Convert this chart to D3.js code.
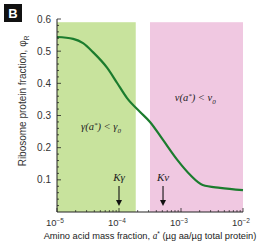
<!DOCTYPE html>
<html>
<head>
<meta charset="utf-8">
<script src="https://cdn.jsdelivr.net/npm/d3@7"></script>
<style>
  body { margin: 0; background: #fff; }
  svg { font-family: "Liberation Sans", Arial, sans-serif; }
  .ital { font-family: "Liberation Serif", "Times New Roman", serif; font-style: italic; }
</style>
</head>
<body>
<svg id="chart"></svg>
<script>
// curve: log10(a*) and phi_R
var curveLogA = [-5.0, -4.74, -4.58, -4.42, -4.19, -4.03, -3.87, -3.66, -3.5, -3.29, -3.06, -2.85, -2.65, -2.37, -2.0];
var curvePhi  = [0.544, 0.538, 0.525, 0.497, 0.448, 0.401, 0.354, 0.311, 0.28, 0.224, 0.162, 0.115, 0.084, 0.075, 0.068];

// shaded regions (log10 a*)
var regionNames = ["gamma", "nu"];
var regionStart = [-5.0, -3.5];
var regionEnd   = [-3.73, -2.0];
var regionTop   = 0.59;

// arrows
var markerNames = ["K\u03b3", "K\u03bd"];
var markerLogA  = [-4.0, -3.29];

var yTicks = [0.1, 0.2, 0.3, 0.4, 0.5, 0.6];
var xTickExp = [-5, -4, -3, -2];

var svgWidth = 262, svgHeight = 243;
var margin = { top: 19, left: 57 };
var width = 186, height = 193;

var x = d3.scaleLinear().domain([-5, -2]).range([0, width]);
var y = d3.scaleLinear().domain([0, 0.6]).range([height, 0]);

var svg = d3.select("#chart").attr("width", svgWidth).attr("height", svgHeight);
var g = svg.append("g").attr("transform", "translate(" + margin.left + "," + margin.top + ")");

var regionColor = ["#c8e39d", "#f0c8e1"];
regionNames.forEach(function(n, i) {
  g.append("rect")
    .attr("x", x(regionStart[i]))
    .attr("y", y(regionTop))
    .attr("width", x(regionEnd[i]) - x(regionStart[i]))
    .attr("height", y(0) - y(regionTop))
    .attr("fill", regionColor[i]);
});

// curve
var pts = curveLogA.map(function(a, i) { return [a, curvePhi[i]]; });
var line = d3.line()
  .x(function(d) { return x(d[0]); })
  .y(function(d) { return y(d[1]); })
  .curve(d3.curveMonotoneX);
g.append("path")
  .datum(pts)
  .attr("fill", "none")
  .attr("stroke", "#1b7c2e")
  .attr("stroke-width", 2.2)
  .attr("stroke-linejoin", "round")
  .attr("d", line);

// axes lines
g.append("line").attr("x1", 0).attr("x2", 0).attr("y1", y(0.6)).attr("y2", y(0))
  .attr("stroke", "#222").attr("stroke-width", 1);
g.append("line").attr("x1", 0).attr("x2", width).attr("y1", y(0)).attr("y2", y(0))
  .attr("stroke", "#222").attr("stroke-width", 1);

// y ticks (inward), minor every 0.02
d3.range(0.02, 0.601, 0.02).forEach(function(v) {
  var major = Math.abs(v * 10 - Math.round(v * 10)) < 1e-6;
  g.append("line").attr("x1", 0).attr("x2", major ? 4 : 2)
    .attr("y1", y(v)).attr("y2", y(v))
    .attr("stroke", "#222").attr("stroke-width", 0.8);
});
yTicks.forEach(function(v) {
  g.append("text").attr("x", -6).attr("y", y(v) + 3.5)
    .attr("text-anchor", "end").attr("font-size", 10).attr("fill", "#333")
    .text(v.toFixed(1));
});

// x ticks (inward), log minor
xTickExp.forEach(function(e, i) {
  g.append("line").attr("x1", x(e)).attr("x2", x(e)).attr("y1", y(0)).attr("y2", y(0) - 4)
    .attr("stroke", "#222").attr("stroke-width", 0.8);
  if (i < xTickExp.length - 1) {
    for (var k = 2; k < 10; k++) {
      var xv = x(e + Math.log10(k));
      g.append("line").attr("x1", xv).attr("x2", xv).attr("y1", y(0)).attr("y2", y(0) - 2)
        .attr("stroke", "#222").attr("stroke-width", 0.7);
    }
  }
  var t = g.append("text").attr("x", x(e) - 2).attr("y", y(0) + 14)
    .attr("text-anchor", "middle").attr("font-size", 9.5).attr("fill", "#333");
  t.append("tspan").text("10");
  t.append("tspan").attr("dy", -3.5).attr("font-size", 6.5).text(String(e).replace("-", "\u2212"));
});

// arrows
markerNames.forEach(function(n, i) {
  var xa = x(markerLogA[i]);
  g.append("text").attr("class", "ital").attr("x", xa).attr("y", 162)
    .attr("text-anchor", "middle").attr("font-size", 11).attr("fill", "#222").text(n);
  g.append("line").attr("x1", xa).attr("x2", xa).attr("y1", 167).attr("y2", 182)
    .attr("stroke", "#111").attr("stroke-width", 1.1);
  g.append("path")
    .attr("d", "M" + (xa - 3) + ",181L" + (xa + 3) + ",181L" + xa + ",187Z")
    .attr("fill", "#111");
});

// region labels
function regionLabel(px, py, sym) {
  var t = g.append("text").attr("class", "ital").attr("x", px).attr("y", py)
    .attr("text-anchor", "middle").attr("font-size", 10.5).attr("fill", "#222");
  t.append("tspan").text(sym + "(a");
  t.append("tspan").attr("dy", -3.5).attr("font-size", 7).text("*");
  t.append("tspan").attr("dy", 3.5).text(") < " + sym);
  t.append("tspan").attr("dy", 2.5).attr("font-size", 7).text("0");
}
regionLabel(x(-4.29), 111, "\u03b3");
regionLabel(x(-2.77), 82, "\u03bd");

// y title
var yt = svg.append("text")
  .attr("transform", "translate(26,101) rotate(-90)")
  .attr("text-anchor", "middle").attr("font-size", 10).attr("fill", "#333");
yt.append("tspan").text("Ribosome protein fraction, \u03c6");
yt.append("tspan").attr("dy", 2.5).attr("font-size", 6.5).text("R");

// x title
var xt = svg.append("text").attr("x", 150).attr("y", 239)
  .attr("text-anchor", "middle").attr("font-size", 9.3).attr("fill", "#222");
xt.append("tspan").text("Amino acid mass fraction, ");
xt.append("tspan").attr("class", "ital").text("a");
xt.append("tspan").attr("dy", -3).attr("font-size", 6.5).text("*");
xt.append("tspan").attr("dy", 3).text(" (\u00b5g aa/\u00b5g total protein)");

// panel letter
svg.append("rect").attr("x", 4).attr("y", 4).attr("width", 18).attr("height", 18).attr("fill", "#111");
svg.append("text").attr("x", 13).attr("y", 18).attr("text-anchor", "middle")
  .attr("font-size", 13).attr("font-weight", "bold").attr("fill", "#fff").text("B");
</script>
</body>
</html>
